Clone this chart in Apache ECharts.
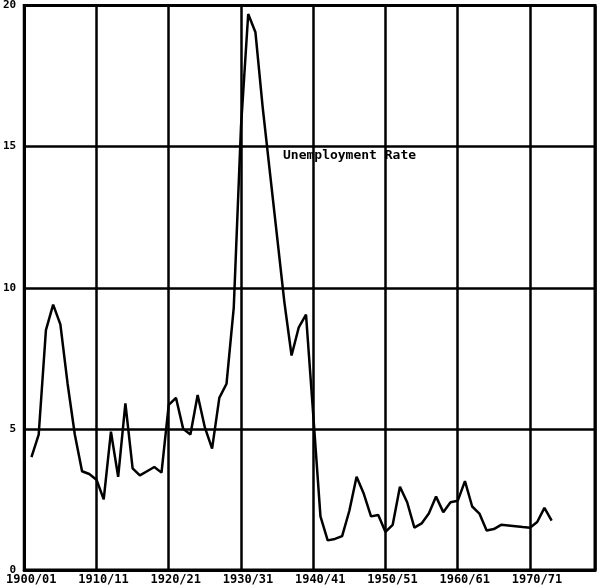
<!DOCTYPE html>
<html>
<head>
<meta charset="utf-8">
<script src="https://cdn.jsdelivr.net/npm/echarts@6/dist/echarts.min.js"></script>
<style>
  html, body { margin: 0; padding: 0; background: #ffffff; }
  #chart { width: 600px; height: 588px; }
</style>
</head>
<body>
<div id="chart"></div>
<script>
// Years (calendar year of each observation)
const years = [
  1901, 1902, 1903, 1904, 1905, 1906, 1907, 1908, 1909, 1910,
  1911, 1912, 1913, 1914, 1915, 1916, 1917, 1918, 1919, 1920,
  1921, 1922, 1923, 1924, 1925, 1926, 1927, 1928, 1929, 1930,
  1931, 1932, 1933, 1934, 1935, 1936, 1937, 1938, 1939, 1940,
  1941, 1942, 1943, 1944, 1945, 1946, 1947, 1948, 1949, 1950,
  1951, 1952, 1953, 1954, 1955, 1956, 1957, 1958, 1959, 1960,
  1961, 1962, 1963, 1964, 1965, 1966, 1967, 1968, 1969, 1970,
  1971, 1972, 1973
];
// Unemployment rate (%)
const unemploymentRate = [
  4.0, 4.8, 8.5, 9.4, 8.7, 6.6, 4.8, 3.5, 3.4, 3.2,
  2.5, 4.9, 3.3, 5.9, 3.6, 3.35, 3.5, 3.65, 3.45, 5.85,
  6.1, 5.0, 4.8, 6.2, 5.05, 4.3, 6.1, 6.6, 9.3, 15.7,
  19.7, 19.05, 16.4, 14.1, 11.8, 9.5, 7.6, 8.6, 9.05, 5.5,
  1.9, 1.05, 1.1, 1.2, 2.1, 3.3, 2.7, 1.9, 1.95, 1.35,
  1.6, 2.95, 2.4, 1.5, 1.65, 2.0, 2.6, 2.05, 2.4, 2.45,
  3.15, 2.25, 2.0, 1.4, 1.45, 1.6, 1.58, 1.55, 1.52, 1.5,
  1.7, 2.2, 1.75
];
const seriesName = 'Unemployment Rate';
const xTickYears = [1900, 1910, 1920, 1930, 1940, 1950, 1960, 1970];
const yTicks = [0, 5, 10, 15, 20];

function fiscalLabel(y) {
  const next = String((y + 1) % 100).padStart(2, '0');
  return y + '/' + next;
}

const chart = echarts.init(document.getElementById('chart'), null, { renderer: 'canvas' });
const labelFont = { color: '#000', fontFamily: 'DejaVu Sans Mono', fontWeight: 'bold' };

chart.setOption({
  backgroundColor: '#ffffff',
  animation: false,
  grid: {
    left: 22, right: 5, top: 5, bottom: 18,
    show: true, borderColor: '#000', borderWidth: 3, backgroundColor: 'transparent'
  },
  xAxis: {
    type: 'value',
    min: 1900, max: 1979, interval: 10,
    axisLine: { show: true, lineStyle: { color: '#000', width: 3 } },
    axisTick: { show: false },
    splitLine: { show: true, lineStyle: { color: '#000', width: 2.5 } },
    axisLabel: Object.assign({}, labelFont, {
      fontSize: 12,
      margin: 4,
      padding: [0, 0, 0, 14],
      showMaxLabel: false,
      formatter: function (v) { return xTickYears.indexOf(v) >= 0 ? fiscalLabel(v) : ''; }
    })
  },
  yAxis: {
    type: 'value',
    min: yTicks[0], max: yTicks[yTicks.length - 1], interval: 5,
    axisLine: { show: true, lineStyle: { color: '#000', width: 3 } },
    axisTick: { show: false },
    splitLine: { show: true, lineStyle: { color: '#000', width: 2.5 } },
    axisLabel: Object.assign({}, labelFont, { fontSize: 11, margin: 8 })
  },
  graphic: [{
    type: 'text',
    left: 283, top: 149,
    style: {
      text: seriesName,
      fill: '#000',
      font: 'bold 13px "DejaVu Sans Mono"'
    }
  }],
  series: [{
    name: seriesName,
    type: 'line',
    data: years.map((y, i) => [y, unemploymentRate[i]]),
    showSymbol: false,
    symbol: 'none',
    lineStyle: { color: '#000', width: 2.5 },
    z: 5
  }]
});
</script>
</body>
</html>
